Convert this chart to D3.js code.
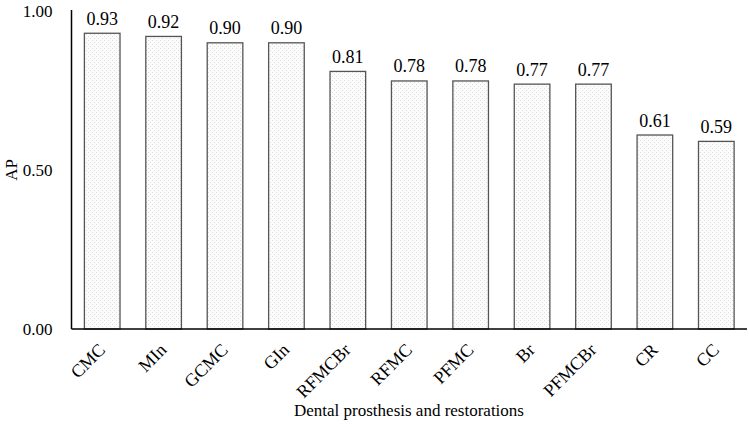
<!DOCTYPE html>
<html><head><meta charset="utf-8">
<script src="https://cdn.jsdelivr.net/npm/d3@7"></script>
<style>body{margin:0;background:#fff}</style>
</head><body>
<svg id="c" width="749" height="427"></svg>
<script>
const categories = ["CMC","MIn","GCMC","GIn","RFMCBr","RFMC","PFMC","Br","PFMCBr","CR","CC"];
const apValues = [0.93,0.92,0.90,0.90,0.81,0.78,0.78,0.77,0.77,0.61,0.59];
const yTicks = [0,0.5,1.0];

(function(){
const FONT = "'Liberation Serif', 'Times New Roman', serif";
const svg = d3.select("#c");
const mLeft = 71.5, mRight = 747, mTop = 11, mBottom = 329;
const x = d3.scaleBand().domain(categories).range([mLeft, mRight]).paddingInner(0.42).paddingOuter(0.21);
const y = d3.scaleLinear().domain([0,1]).range([mBottom, mTop]);

const defs = svg.append("defs");
const pat = defs.append("pattern").attr("id","dots").attr("patternUnits","userSpaceOnUse").attr("width",4).attr("height",4);
pat.append("rect").attr("width",4).attr("height",4).attr("fill","#fcfcfc");
pat.append("rect").attr("x",0).attr("y",0).attr("width",1).attr("height",1).attr("fill","#dcdcdc");
pat.append("rect").attr("x",2).attr("y",2).attr("width",1).attr("height",1).attr("fill","#dcdcdc");

svg.selectAll("rect.bar").data(categories).enter().append("rect")
  .attr("class","bar")
  .attr("x", d => x(d)).attr("width", x.bandwidth())
  .attr("y", (d,i) => y(apValues[i])).attr("height", (d,i) => y(0) - y(apValues[i]))
  .attr("fill","url(#dots)").attr("stroke","#555").attr("stroke-width",1.3);

svg.selectAll("text.val").data(categories).enter().append("text")
  .attr("class","val")
  .attr("x", d => x(d) + x.bandwidth()/2).attr("y", (d,i) => y(apValues[i]) - 8.5)
  .attr("text-anchor","middle").attr("font-size",18).attr("font-family",FONT).attr("fill","#000")
  .text((d,i) => apValues[i].toFixed(2));

const yAxis = svg.append("g").attr("transform",`translate(${mLeft},0)`)
  .call(d3.axisLeft(y).tickValues(yTicks).tickSize(0).tickPadding(19).tickFormat(d3.format(".2f")));
yAxis.select(".domain").attr("stroke","#000").attr("stroke-width",1.5).attr("d",`M0,${mTop-1}V${mBottom}`);
yAxis.selectAll("text").attr("font-size",17).attr("font-family",FONT).attr("fill","#000");

const xAxis = svg.append("g").attr("transform",`translate(0,${mBottom})`)
  .call(d3.axisBottom(x).tickSize(0).tickPadding(0));
xAxis.select(".domain").attr("stroke","#000").attr("stroke-width",1.5).attr("d",`M${mLeft},0H${mRight}`);
xAxis.selectAll("text")
  .attr("font-size",18).attr("font-family",FONT).attr("fill","#000")
  .attr("text-anchor","end").attr("dy",0).attr("y",0)
  .attr("transform","translate(4,22) rotate(-45)");

svg.append("text").attr("x",409).attr("y",416).attr("text-anchor","middle").attr("font-size",17)
  .attr("font-family",FONT).attr("fill","#000")
  .text("Dental prosthesis and restorations");
svg.append("text").attr("transform","translate(17,170) rotate(-90)").attr("text-anchor","middle").attr("font-size",17)
  .attr("font-family",FONT).attr("fill","#000")
  .text("AP");
})();
</script>
</body></html>
